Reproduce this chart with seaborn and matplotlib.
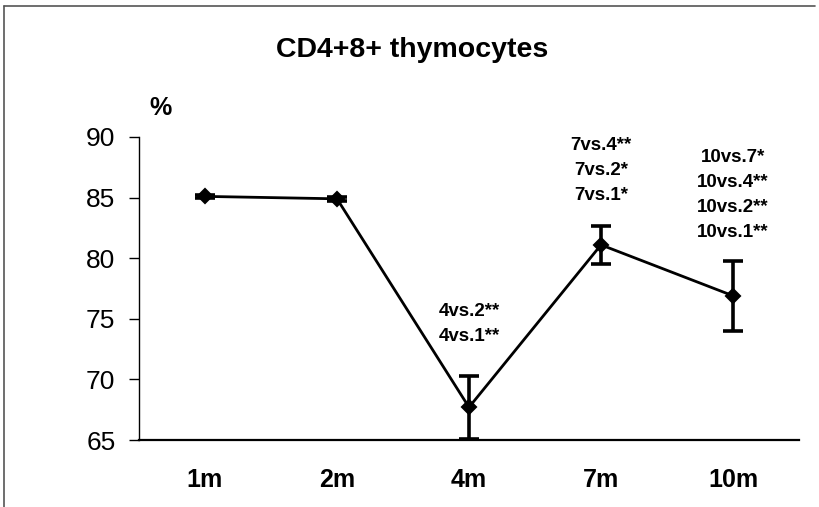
import matplotlib
matplotlib.use("Agg")
import matplotlib.pyplot as plt
import seaborn as sns
import pandas as pd
from matplotlib.lines import Line2D

# data
months = ["1m", "2m", "4m", "7m", "10m"]
means = [85.1, 84.9, 67.7, 81.1, 76.9]
errs = [0.15, 0.15, 2.6, 1.55, 2.9]

# significance labels above each point (top line first)
sig_labels = [
    [],
    [],
    ["4vs.2**", "4vs.1**"],
    ["7vs.4**", "7vs.2*", "7vs.1*"],
    ["10vs.7*", "10vs.4**", "10vs.2**", "10vs.1**"],
]
sig_top = [None, None, 75.6, 89.3, 88.3]

sns.set_style("ticks")
plt.rcParams["font.family"] = ["Liberation Sans", "DejaVu Sans"]
plt.rcParams.update({"text.color": "black", "axes.labelcolor": "black",
                     "xtick.color": "black", "ytick.color": "black",
                     "axes.edgecolor": "black"})

df = pd.DataFrame({"month": months, "pct": means})

fig = plt.figure(figsize=(8.19, 5.07), dpi=100)
ax = fig.add_axes([139 / 819, 1 - 440 / 507, 660 / 819, 303 / 507])

sns.pointplot(data=df, x="month", y="pct", color="black", markers="D",
              markersize=7, linewidth=2.0, errorbar=None, ax=ax)
ax.errorbar(range(len(months)), means, yerr=errs, fmt="none",
            ecolor="black", elinewidth=2.6, capsize=7, capthick=2.6,
            clip_on=False, zorder=3)

for i, lines in enumerate(sig_labels):
    for k, txt in enumerate(lines):
        ax.text(i, sig_top[i] - k * 2.05, txt, ha="center", va="center",
                fontsize=13.5, fontweight="bold", color="black")

ax.set_ylim(65, 90)
ax.set_xlim(-0.5, len(months) - 0.5)
ax.set_yticks([65, 70, 75, 80, 85, 90])
ax.set_xlabel("")
ax.set_ylabel("")
sns.despine(ax=ax)
ax.spines["left"].set_linewidth(1.0)
ax.spines["bottom"].set_linewidth(1.6)
ax.tick_params(axis="y", length=7, width=1.0, labelsize=19, pad=10)
ax.tick_params(axis="x", length=0, labelsize=18, pad=20)
for lab in ax.get_xticklabels():
    lab.set_fontweight("bold")

fig.text(412 / 819, 1 - 50 / 507, "CD4+8+ thymocytes", ha="center",
         va="center", fontsize=20.5, fontweight="bold", color="black")
fig.text(160 / 819, 1 - 108 / 507, "%", ha="center", va="center",
         fontsize=18, fontweight="bold", color="black")

# scanned frame: only top and left edges show
fig.lines.append(Line2D([0.005, 0.995], [0.988, 0.988],
                        transform=fig.transFigure, color="#555555", lw=1.2))
fig.lines.append(Line2D([0.005, 0.005], [0.0, 0.988],
                        transform=fig.transFigure, color="#555555", lw=1.2))

fig.savefig("out.png", dpi=100)
